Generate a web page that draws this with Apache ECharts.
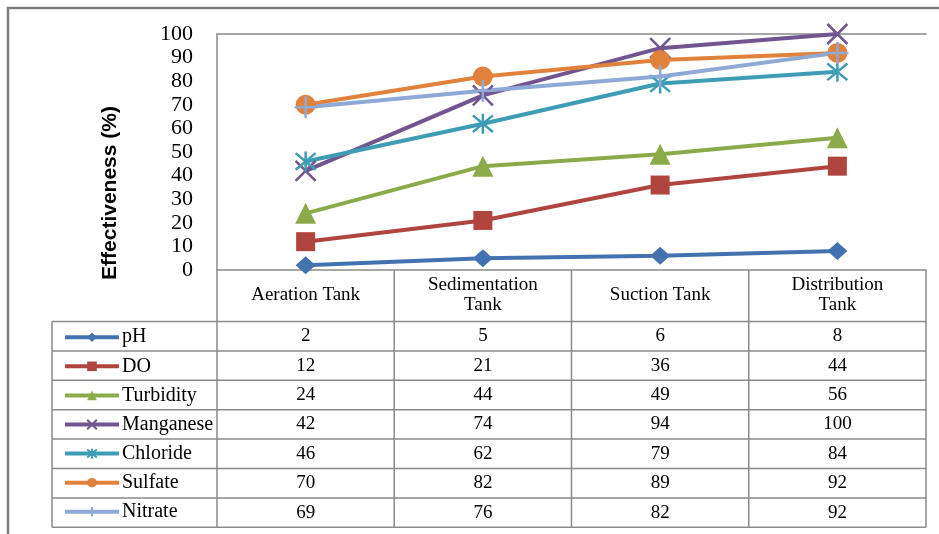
<!DOCTYPE html>
<html>
<head>
<meta charset="utf-8">
<script src="https://cdn.jsdelivr.net/npm/echarts@6/dist/echarts.min.js"></script>
<style>
html, body { margin: 0; padding: 0; background: #fff; }
#chart { width: 939px; height: 534px; }
</style>
</head>
<body>
<div id="chart"></div>
<script>
// data
var categories = ['Aeration Tank', 'Sedimentation\nTank', 'Suction Tank', 'Distribution\nTank'];
var seriesNames = ['pH', 'DO', 'Turbidity', 'Manganese', 'Chloride', 'Sulfate', 'Nitrate'];
var phValues = [2, 5, 6, 8];
var doValues = [12, 21, 36, 44];
var turbidityValues = [24, 44, 49, 56];
var manganeseValues = [42, 74, 94, 100];
var chlorideValues = [46, 62, 79, 84];
var sulfateValues = [70, 82, 89, 92];
var nitrateValues = [69, 76, 82, 92];
var yMin = 0, yMax = 100, yStep = 10;

var allValues = [phValues, doValues, turbidityValues, manganeseValues, chlorideValues, sulfateValues, nitrateValues];
var colors = ['#4472b0', '#b0443f', '#8bab4a', '#72558f', '#3f9cb5', '#e0823c', '#8fa9d5'];
var symbols = [
    'diamond', 'rect', 'triangle',
    'path://M0,0L10,10M10,0L0,10',
    'path://M0,0L10,10M10,0L0,10M5,-1L5,11',
    'circle',
    'path://M5,0L5,10M0,5L10,5'
];
var symbolSizes = [[20, 18], 19, 21, 20, 20, 20, 22];
var strokeSymbol = [false, false, false, true, true, false, true];

var serifFont = '"Liberation Serif", "Times New Roman", serif';
var gridLeft = 217, gridRight = 13, gridTop = 34, gridBottom = 264;
var tableLeft = 52, headerBottom = 321.5, rowH = 29.4;
var legendFont = 20;
var lineGray = '#8a8a8a';

var series = seriesNames.map(function (name, i) {
    return {
        name: name,
        type: 'line',
        data: allValues[i],
        symbol: symbols[i],
        symbolSize: symbolSizes[i],
        showAllSymbol: true,
        lineStyle: { color: colors[i], width: 4 },
        itemStyle: strokeSymbol[i]
            ? { color: colors[i], borderColor: colors[i], borderWidth: 2.5 }
            : { color: colors[i] },
        emphasis: { disabled: true },
        animation: false
    };
});

var myChart = echarts.init(document.getElementById('chart'));
myChart.setOption({
    animation: false,
    grid: { left: gridLeft, right: gridRight, top: gridTop, bottom: gridBottom, containLabel: false },
    legend: {
        orient: 'vertical',
        left: 58,
        top: headerBottom + (rowH - legendFont) / 2 - 4,
        height: 400,
        itemWidth: 54,
        itemHeight: 12,
        itemGap: rowH - legendFont - 0.3,
        data: seriesNames,
        selectedMode: false,
        lineStyle: { width: 4 },
        textStyle: { fontFamily: serifFont, fontSize: legendFont, color: '#000', padding: [0, 0, 0, -2] }
    },
    xAxis: [{
        type: 'category',
        data: categories,
        boundaryGap: true,
        axisLine: { lineStyle: { color: lineGray, width: 1.5 } },
        axisTick: { show: false },
        axisLabel: {
            interval: 0,
            margin: 25,
            verticalAlign: 'middle',
            lineHeight: 20,
            fontFamily: serifFont,
            fontSize: 19,
            color: '#000'
        }
    }, {
        type: 'category',
        data: categories,
        position: 'top',
        axisLine: { lineStyle: { color: lineGray, width: 1.5 } },
        axisTick: { show: false },
        axisLabel: { show: false }
    }],
    yAxis: {
        type: 'value',
        min: yMin,
        max: yMax,
        interval: yStep,
        axisLine: { show: true, lineStyle: { color: lineGray, width: 1.5 } },
        axisTick: { show: false },
        splitLine: { show: false },
        axisLabel: { margin: 24, fontFamily: serifFont, fontSize: 22, color: '#000' }
    },
    series: series
});

// data table under the plot, built from the same arrays
var centers = categories.map(function (c, i) {
    return myChart.convertToPixel({ xAxisIndex: 0 }, i);
});
var colW = centers[1] - centers[0];
var bounds = [centers[0] - colW / 2].concat(centers.map(function (c) { return c + colW / 2; }));
var plotBottom = myChart.convertToPixel({ yAxisIndex: 0 }, yMin);
var tableBottom = headerBottom + rowH * seriesNames.length;
var tableRight = bounds[bounds.length - 1];

var graphics = [];
graphics.push({
    type: 'rect', silent: true,
    shape: { x: 8, y: 8, width: 960, height: 560 },
    style: { fill: null, stroke: '#7f7f7f', lineWidth: 2.5 }
});
graphics.push({
    type: 'text', silent: true,
    x: 110, y: 193, rotation: Math.PI / 2,
    style: {
        text: 'Effectiveness (%)', fill: '#000',
        font: 'bold 21px "Liberation Sans", Arial, sans-serif',
        align: 'center', verticalAlign: 'middle'
    }
});
for (var r = 0; r <= seriesNames.length; r++) {
    var yy = headerBottom + rowH * r;
    graphics.push({
        type: 'line', silent: true,
        shape: { x1: tableLeft, y1: yy, x2: tableRight, y2: yy },
        style: { stroke: lineGray, lineWidth: 1.5 }
    });
}
graphics.push({
    type: 'line', silent: true,
    shape: { x1: tableLeft, y1: headerBottom, x2: tableLeft, y2: tableBottom },
    style: { stroke: lineGray, lineWidth: 1.5 }
});
bounds.forEach(function (bx) {
    graphics.push({
        type: 'line', silent: true,
        shape: { x1: bx, y1: plotBottom, x2: bx, y2: tableBottom },
        style: { stroke: lineGray, lineWidth: 1.5 }
    });
});
allValues.forEach(function (vals, r) {
    vals.forEach(function (v, c) {
        graphics.push({
            type: 'text', silent: true,
            x: centers[c], y: headerBottom + rowH * (r + 0.5),
            style: {
                text: String(v), fill: '#000',
                font: '19px ' + serifFont,
                align: 'center', verticalAlign: 'middle'
            }
        });
    });
});
myChart.setOption({ graphic: graphics });
</script>
</body>
</html>
